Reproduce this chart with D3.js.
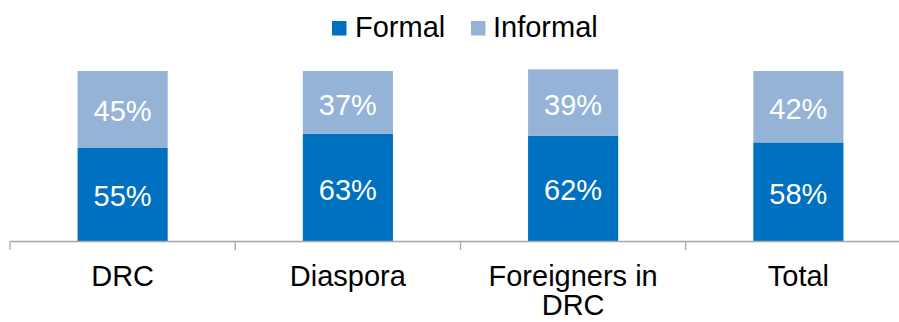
<!DOCTYPE html>
<html>
<head>
<meta charset="utf-8">
<script src="https://cdn.jsdelivr.net/npm/d3@7"></script>
<style>
  html, body { margin: 0; padding: 0; background: #fff; }
  svg { display: block; font-family: "Liberation Sans", Arial, sans-serif; }
</style>
</head>
<body>
<svg id="chart" width="899" height="322"></svg>
<script>
// Share of formal vs informal channels by group (percent)
const categories = ["DRC", "Diaspora", "Foreigners in DRC", "Total"];
const formalValues = [55, 63, 62, 58];
const informalValues = [45, 37, 39, 42];
const seriesNames = ["Formal", "Informal"];
const seriesColors = ["#0070C0", "#95B3D7"];

const svg = d3.select("#chart");
const baseY = 241, topY = 71;
const fontSize = 29;
const lineGap = 29;

const x = d3.scaleBand()
  .domain(categories)
  .range([10, 911])
  .paddingInner(0.6)
  .paddingOuter(0.3);

const y = d3.scaleLinear()
  .domain([0, 100])
  .range([baseY, topY]);

const rows = categories.map((c, i) => ({
  cat: c,
  segs: [
    { key: seriesNames[0], y0: 0, y1: formalValues[i], v: formalValues[i], color: seriesColors[0] },
    { key: seriesNames[1], y0: formalValues[i], y1: formalValues[i] + informalValues[i], v: informalValues[i], color: seriesColors[1] }
  ]
}));

// stacked bars
const groups = svg.append("g").selectAll("g")
  .data(rows).join("g")
  .attr("transform", d => `translate(${x(d.cat)},0)`);

groups.selectAll("rect")
  .data(d => d.segs).join("rect")
  .attr("x", 0)
  .attr("width", x.bandwidth())
  .attr("y", s => y(s.y1))
  .attr("height", s => y(s.y0) - y(s.y1))
  .attr("fill", s => s.color);

// value labels inside the segments
groups.selectAll("text")
  .data(d => d.segs).join("text")
  .attr("x", x.bandwidth() / 2)
  .attr("y", s => (y(s.y0) + y(s.y1)) / 2)
  .attr("dy", "0.42em")
  .attr("text-anchor", "middle")
  .attr("fill", "#fff")
  .style("font-size", fontSize + "px")
  .text(s => s.v + "%");

// category axis
const axis = svg.append("g")
  .attr("transform", `translate(0,${baseY})`)
  .call(d3.axisBottom(x).tickSize(0).tickSizeOuter(0));

axis.select(".domain")
  .attr("stroke", "#A6A6A6")
  .attr("stroke-width", 1.3);

// tick marks between categories
const step = x.step();
const boundaries = categories.map(c => x(c) - step * x.paddingInner() / 2)
  .concat([x(categories[categories.length - 1]) + x.bandwidth() + step * x.paddingInner() / 2]);
axis.selectAll(".bound")
  .data(boundaries).join("line")
  .attr("class", "bound")
  .attr("x1", d => d).attr("x2", d => d)
  .attr("y1", 0).attr("y2", 9)
  .attr("stroke", "#A6A6A6")
  .attr("stroke-width", 1.3);

// wrap long category names onto a second line
axis.selectAll(".tick text")
  .attr("y", 45)
  .attr("dy", 0)
  .attr("fill", "#000")
  .style("font-size", fontSize + "px")
  .style("font-family", "'Liberation Sans', Arial, sans-serif")
  .each(function(d) {
    const t = d3.select(this);
    const words = d.split(" ");
    t.text(null);
    let line = [];
    let tspan = t.append("tspan").attr("x", 0).attr("y", 45);
    let lineNo = 0;
    words.forEach(w => {
      line.push(w);
      tspan.text(line.join(" "));
      if (tspan.node().getComputedTextLength() > step && line.length > 1) {
        line.pop();
        tspan.text(line.join(" "));
        line = [w];
        lineNo++;
        tspan = t.append("tspan").attr("x", 0).attr("y", 45).attr("dy", (lineNo * lineGap) + "px").text(w);
      }
    });
  });

// legend
const legendItems = [
  { name: seriesNames[0], color: seriesColors[0], x: 332, tx: 355 },
  { name: seriesNames[1], color: seriesColors[1], x: 471, tx: 493 }
];
const legend = svg.append("g").selectAll("g")
  .data(legendItems).join("g");
legend.append("rect")
  .attr("x", d => d.x).attr("y", 21)
  .attr("width", 14.5).attr("height", 14.5)
  .attr("fill", d => d.color);
legend.append("text")
  .attr("x", d => d.tx).attr("y", 37)
  .attr("fill", "#000")
  .style("font-size", fontSize + "px")
  .text(d => d.name);
</script>
</body>
</html>
